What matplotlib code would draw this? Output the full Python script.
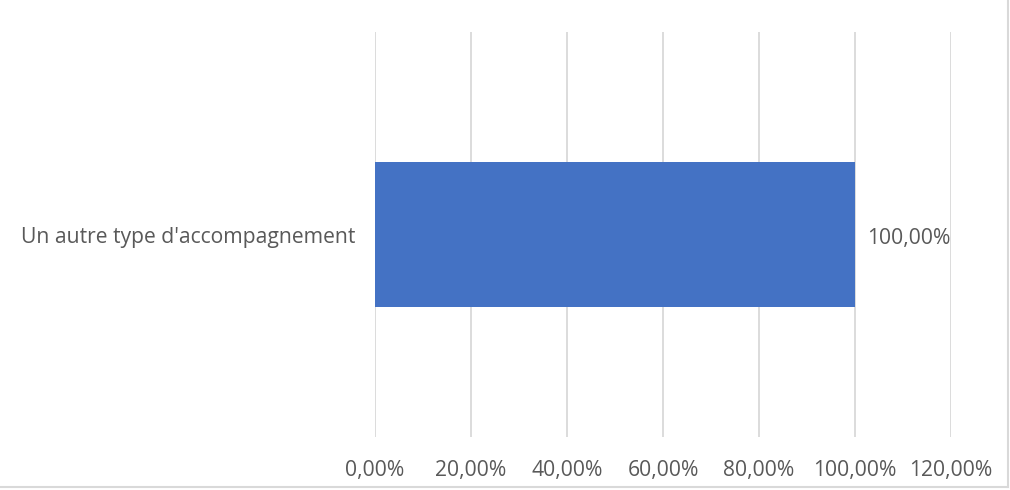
import matplotlib
matplotlib.use("Agg")
import matplotlib.pyplot as plt
from matplotlib.lines import Line2D

# Chart data
categories = ["Un autre type d'accompagnement"]
values = [1.0]
xticks = [0.0, 0.2, 0.4, 0.6, 0.8, 1.0, 1.2]

plt.rcParams["font.family"] = ["Open Sans", "DejaVu Sans"]
text_color = "#595959"
bar_color = "#4472C4"
grid_color = "#D9D9D9"
fsize = 15.2

fig = plt.figure(figsize=(10.1, 4.9), dpi=100)
ax = fig.add_axes([375 / 1010, 53 / 490, 576 / 1010, 405 / 490])

ax.barh(range(len(categories)), values, height=0.356, color=bar_color, zorder=3)
for i, v in enumerate(values):
    ax.text(v + 0.026, i - 0.01, ("%.2f%%" % (v * 100)).replace(".", ","),
            va="center", ha="left", fontsize=fsize, color=text_color)

ax.set_xlim(0, 1.2)
ax.set_ylim(-0.5, 0.5)
ax.set_xticks(xticks)
ax.set_xticklabels([("%.2f%%" % (t * 100)).replace(".", ",") for t in xticks],
                   fontsize=fsize, color=text_color)
ax.set_yticks(range(len(categories)))
ax.set_yticklabels(categories, fontsize=fsize, color=text_color)
ax.tick_params(axis="both", length=0)
ax.tick_params(axis="x", pad=16.5)
ax.tick_params(axis="y", pad=14)
ax.grid(axis="x", color=grid_color, linewidth=1.3, zorder=0)
for s in ax.spines.values():
    s.set_visible(False)

# right and bottom edges of the chart frame
x_edge = 1 - 2.5 / 1010
y_edge = 3.5 / 490
fig.lines.append(Line2D([x_edge, x_edge], [y_edge, 1], transform=fig.transFigure,
                        color="#D9D9D9", linewidth=1.5))
fig.lines.append(Line2D([0, x_edge], [y_edge, y_edge], transform=fig.transFigure,
                        color="#D9D9D9", linewidth=1.5))

fig.savefig("out.png", dpi=100)
